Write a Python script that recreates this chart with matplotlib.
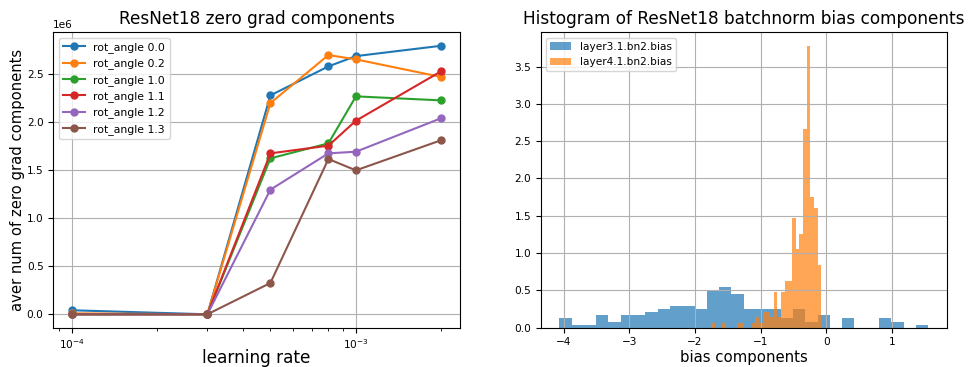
import numpy as np
import matplotlib
matplotlib.use("Agg")
import matplotlib.pyplot as plt

# learning rates and zero-grad counts per rotation angle
learning_rates = [1e-4, 3e-4, 5e-4, 8e-4, 1e-3, 2e-3]
rot_angles = ["0.0", "0.2", "1.0", "1.1", "1.2", "1.3"]
zero_grad_00 = [0.042e6, 0.0, 2.278e6, 2.580e6, 2.687e6, 2.795e6]
zero_grad_02 = [0.010e6, 0.0, 2.198e6, 2.698e6, 2.653e6, 2.469e6]
zero_grad_10 = [0.0, 0.0, 1.623e6, 1.779e6, 2.268e6, 2.226e6]
zero_grad_11 = [0.0, 0.0, 1.675e6, 1.755e6, 2.015e6, 2.531e6]
zero_grad_12 = [0.0, 0.0, 1.297e6, 1.675e6, 1.692e6, 2.042e6]
zero_grad_13 = [0.0, 0.0, 0.326e6, 1.616e6, 1.498e6, 1.813e6]

# histogram (density) of batchnorm biases, 30 bins each
layer3_range = (-4.065, 1.553)
layer3_density = [0.125, 0.042, 0.042, 0.166, 0.083, 0.166, 0.166, 0.208, 0.249, 0.291,
                  0.291, 0.249, 0.498, 0.540, 0.457, 0.249, 0.249, 0.249, 0.125, 0.249,
                  0.083, 0.166, 0.0, 0.125, 0.0, 0.0, 0.125, 0.083, 0.0, 0.042]
layer4_range = (-1.755, -0.073)
layer4_density = [0.069, 0.0, 0.0, 0.069, 0.0, 0.0, 0.0, 0.069, 0.069, 0.0,
                  0.0, 0.069, 0.138, 0.069, 0.208, 0.208, 0.138, 0.485, 0.138, 0.485,
                  0.624, 0.624, 1.465, 1.050, 1.250, 2.660, 3.770, 1.745, 1.600, 0.840]

fig = plt.figure(figsize=(9.71, 3.67), dpi=100)
ax1 = fig.add_axes([0.0549, 0.107, 0.4188, 0.805])
ax2 = fig.add_axes([0.557, 0.107, 0.418, 0.805])

# left: zero grad components vs learning rate
series = [zero_grad_00, zero_grad_02, zero_grad_10, zero_grad_11, zero_grad_12, zero_grad_13]
for angle, vals in zip(rot_angles, series):
    ax1.plot(learning_rates, vals, marker="o", markersize=5, label=f"rot_angle {angle}")
ax1.set_xscale("log")
ax1.grid(True)
ax1.set_title("ResNet18 zero grad components", fontsize=12.2)
ax1.set_xlabel("learning rate", fontsize=12.2, labelpad=-1.5)
ax1.set_ylabel("aver num of zero grad components", fontsize=10.6, labelpad=1)
ax1.tick_params(labelsize=7.6)
ax1.yaxis.get_offset_text().set_fontsize(7.6)
ax1.legend(loc="upper left", fontsize=7.8)

# right: histogram of biases
edges3 = np.linspace(layer3_range[0], layer3_range[1], len(layer3_density) + 1)
edges4 = np.linspace(layer4_range[0], layer4_range[1], len(layer4_density) + 1)
ax2.hist(edges3[:-1], bins=edges3, weights=layer3_density, alpha=0.7, label="layer3.1.bn2.bias")
ax2.hist(edges4[:-1], bins=edges4, weights=layer4_density, alpha=0.7, label="layer4.1.bn2.bias")
ax2.grid(True)
ax2.set_title("Histogram of ResNet18 batchnorm bias components", fontsize=12.2)
ax2.set_xlabel("bias components", fontsize=10.7, labelpad=1.5)
ax2.tick_params(labelsize=7.6)
ax2.legend(loc="upper left", fontsize=7.6)

fig.savefig("out.png", dpi=100)
